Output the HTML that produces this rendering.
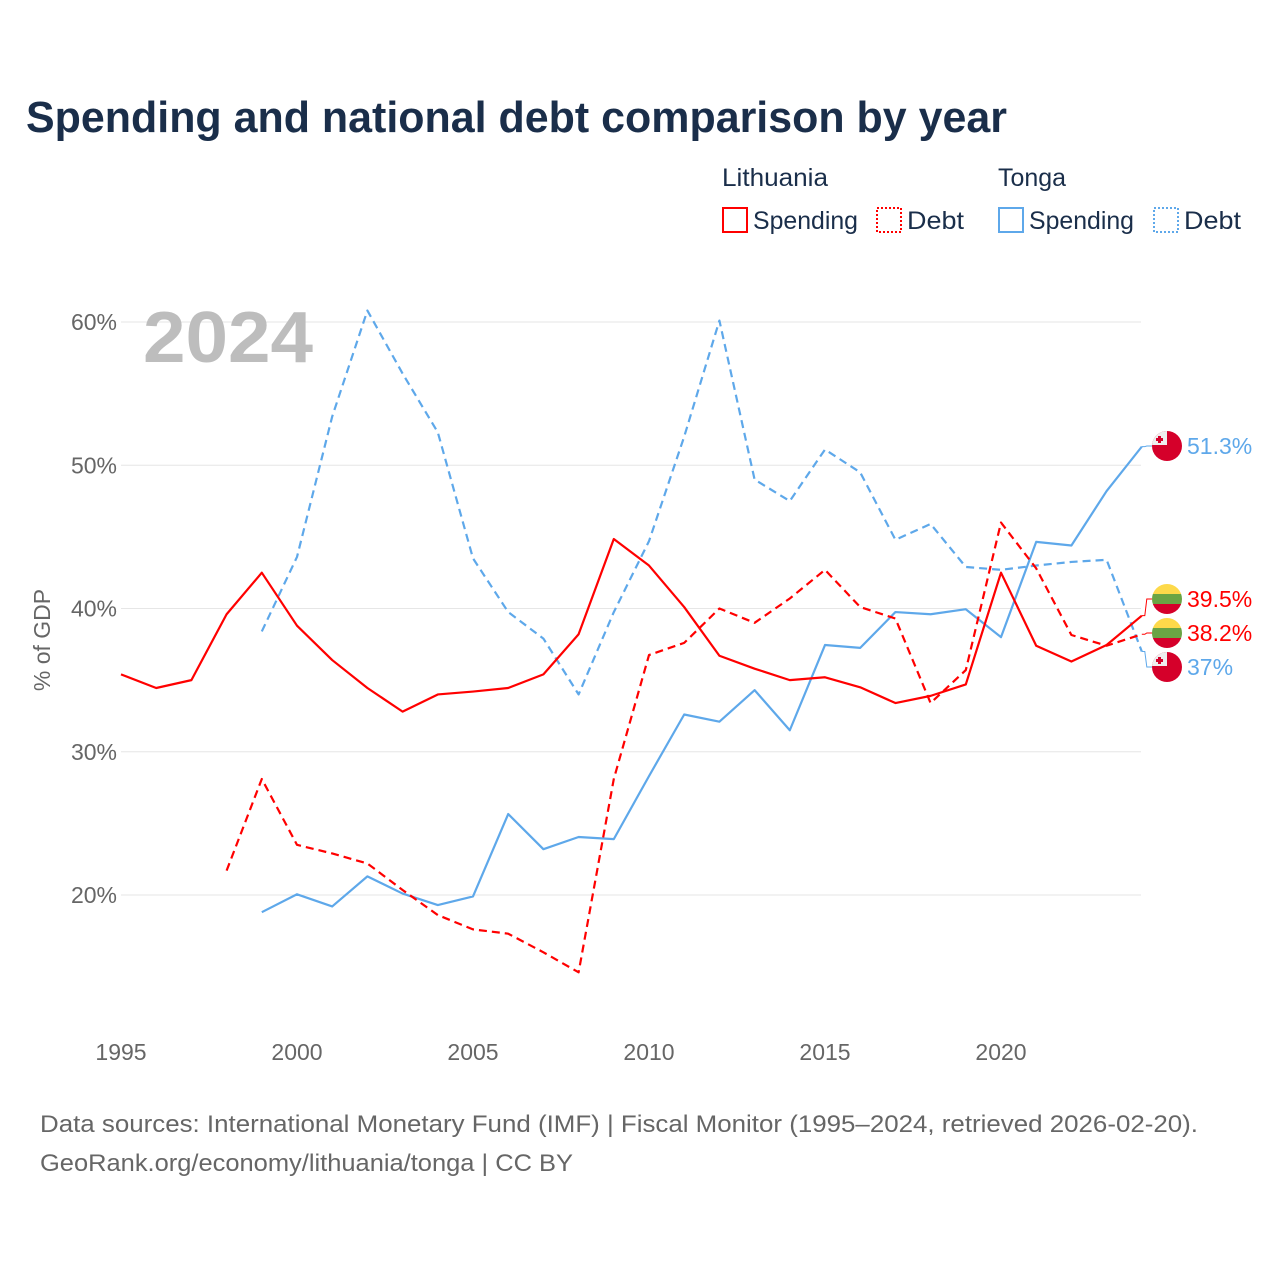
<!DOCTYPE html>
<html><head><meta charset="utf-8"><style>
body{margin:0;background:#fff;font-family:"Liberation Sans",sans-serif}
</style></head><body>
<svg width="1280" height="1280" xmlns="http://www.w3.org/2000/svg" font-family="Liberation Sans, sans-serif">
<text x="26" y="132" font-size="44" font-weight="bold" fill="#1a2e4a" textLength="981" lengthAdjust="spacingAndGlyphs">Spending and national debt comparison by year</text>
<g font-size="25" fill="#1a2e4a">
<text x="722" y="186" textLength="106" lengthAdjust="spacingAndGlyphs">Lithuania</text>
<text x="998" y="186" textLength="68" lengthAdjust="spacingAndGlyphs">Tonga</text>
<rect x="723" y="208" width="24" height="24" fill="none" stroke="#f00" stroke-width="2"/>
<text x="753" y="229" textLength="105" lengthAdjust="spacingAndGlyphs">Spending</text>
<rect x="877" y="208" width="24" height="24" fill="none" stroke="#f00" stroke-width="2" stroke-dasharray="2,2"/>
<text x="907" y="229" textLength="57" lengthAdjust="spacingAndGlyphs">Debt</text>
<rect x="999" y="208" width="24" height="24" fill="none" stroke="#5ea8ea" stroke-width="2"/>
<text x="1029" y="229" textLength="105" lengthAdjust="spacingAndGlyphs">Spending</text>
<rect x="1154" y="208" width="24" height="24" fill="none" stroke="#5ea8ea" stroke-width="2" stroke-dasharray="2,2"/>
<text x="1184" y="229" textLength="57" lengthAdjust="spacingAndGlyphs">Debt</text>
</g>
<g id="grid"></g>
<text x="143" y="362" font-size="72" font-weight="bold" fill="#bdbdbd" textLength="170" lengthAdjust="spacingAndGlyphs">2024</text>
<text transform="translate(50,640) rotate(-90)" text-anchor="middle" font-size="23" fill="#666">% of GDP</text>
<g id="series"></g>
<g id="labels"></g>
<g font-size="24" fill="#666">
<text x="40" y="1132" textLength="1158" lengthAdjust="spacingAndGlyphs">Data sources: International Monetary Fund (IMF) | Fiscal Monitor (1995–2024, retrieved 2026-02-20).</text>
<text x="40" y="1171" textLength="533" lengthAdjust="spacingAndGlyphs">GeoRank.org/economy/lithuania/tonga | CC BY</text>
</g>
</svg>
<script>
const yTicks=[20,30,40,50,60];
const xTicks=[1995,2000,2005,2010,2015,2020];
const ltSpendYears=[1995,1996,1997,1998,1999,2000,2001,2002,2003,2004,2005,2006,2007,2008,2009,2010,2011,2012,2013,2014,2015,2016,2017,2018,2019,2020,2021,2022,2023,2024];
const ltSpend=[35.4,34.45,35.0,39.6,42.5,38.8,36.4,34.45,32.8,34.0,34.2,34.45,35.4,38.2,44.85,43.0,40.1,36.7,35.8,35.0,35.2,34.5,33.4,33.9,34.7,42.5,37.4,36.3,37.45,39.5];
const ltDebtYears=[1998,1999,2000,2001,2002,2003,2004,2005,2006,2007,2008,2009,2010,2011,2012,2013,2014,2015,2016,2017,2018,2019,2020,2021,2022,2023,2024];
const ltDebt=[21.7,28.1,23.5,22.9,22.2,20.35,18.6,17.6,17.3,16.0,14.6,28.1,36.75,37.6,40.0,39.0,40.7,42.7,40.1,39.3,33.4,35.7,46.0,42.8,38.15,37.4,38.2];
const toYears=[1999,2000,2001,2002,2003,2004,2005,2006,2007,2008,2009,2010,2011,2012,2013,2014,2015,2016,2017,2018,2019,2020,2021,2022,2023,2024];
const toSpend=[18.8,20.05,19.2,21.3,20.1,19.3,19.9,25.65,23.2,24.05,23.9,28.3,32.6,32.1,34.3,31.5,37.45,37.25,39.75,39.6,39.95,38.0,44.65,44.4,48.2,51.3];
const toDebt=[38.4,43.6,53.4,60.8,56.4,52.3,43.5,39.75,37.9,34.0,39.75,44.7,52.0,60.1,49.0,47.5,51.1,49.5,44.8,45.9,42.9,42.7,43.0,43.25,43.4,37.0];
const NS="http://www.w3.org/2000/svg";
const X=y=>121+(y-1995)*35.2;
const Y=v=>895-(v-20)*14.325;
function mk(t,a,p){const e=document.createElementNS(NS,t);for(const k in a)e.setAttribute(k,a[k]);p.appendChild(e);return e;}
const grid=document.getElementById('grid');
yTicks.forEach(v=>{
 const l=mk('line',{x1:121,x2:1141,y1:Y(v),y2:Y(v),stroke:'#e6e6e6','stroke-width':1},grid);
 
 
 const t=mk('text',{x:117,y:Y(v)+8,'text-anchor':'end','font-size':23,fill:'#666'},grid);
 t.textContent=v+'%';
 
 
});
xTicks.forEach(yr=>{
 const t=mk('text',{x:X(yr),y:1060,'text-anchor':'middle','font-size':23,fill:'#666'},grid);
 t.textContent=yr;
 
 
});
const ser=document.getElementById('series');
function line(xs,vs,col,dash,name){
 const p=mk('polyline',{points:xs.map((x,i)=>X(x)+','+Y(vs[i])).join(' '),fill:'none',stroke:col,'stroke-width':2.2,'stroke-dasharray':dash,'stroke-linejoin':'round'},ser);
 
 
}
line(toYears,toDebt,'#5ea8ea','8,5','tonga-debt-line');
line(toYears,toSpend,'#5ea8ea','none','tonga-spending-line');
line(ltDebtYears,ltDebt,'#f00','8,5','lithuania-debt-line');
line(ltSpendYears,ltSpend,'#f00','none','lithuania-spending-line');
const lab=document.getElementById('labels');
function flag(cy,kind,name){
 const g=mk('g',{},lab);
 
 
 const cx=1167;
 const clip=mk('clipPath',{id:'c'+name},g);
 mk('circle',{cx:cx,cy:cy,r:15},clip);
 const inner=mk('g',{'clip-path':'url(#c'+name+')'},g);
 if(kind==='lt'){
  mk('rect',{x:cx-15,y:cy-15,width:30,height:10,fill:'#fdd94a'},inner);
  mk('rect',{x:cx-15,y:cy-5,width:30,height:10,fill:'#6aa444'},inner);
  mk('rect',{x:cx-15,y:cy+5,width:30,height:10,fill:'#d5002a'},inner);
 }else{
  mk('rect',{x:cx-15,y:cy-15,width:30,height:30,fill:'#d5002a'},inner);
  mk('rect',{x:cx-15,y:cy-15,width:15,height:14,fill:'#eee'},inner);
  mk('rect',{x:cx-9,y:cy-10,width:3,height:7,fill:'#d5002a'},inner);
  mk('rect',{x:cx-11,y:cy-8,width:7,height:3,fill:'#d5002a'},inner);
 }
}
function label(v,ly,col,kind,name,txt){
 const y0=Y(v);
 const c=mk('polyline',{points:`${X(2024)},${y0} ${X(2024)+3},${y0} ${X(2024)+5},${ly} ${1152},${ly}`,fill:'none',stroke:col,'stroke-width':1},lab);
 
 
 flag(ly,kind,name+'-flag');
 const t=mk('text',{x:1187,y:ly+8,'font-size':23,fill:col},lab);
 t.textContent=txt;
 
 
}
label(toSpend[toSpend.length-1],446,'#5ea8ea','to','tonga-spending-end','51.3%');
label(ltSpend[ltSpend.length-1],599,'#f00','lt','lithuania-spending-end','39.5%');
label(ltDebt[ltDebt.length-1],633,'#f00','lt','lithuania-debt-end','38.2%');
label(toDebt[toDebt.length-1],667,'#5ea8ea','to','tonga-debt-end','37%');
</script>
</body></html>
